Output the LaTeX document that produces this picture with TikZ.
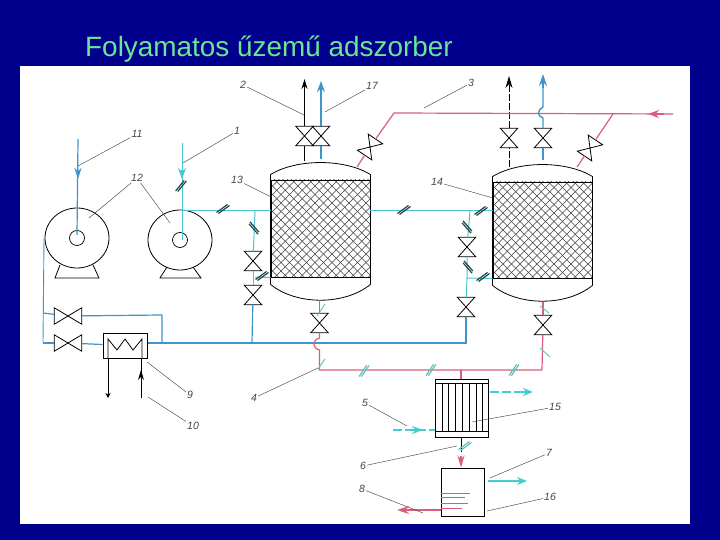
\documentclass[tikz,border=0pt]{standalone}
\usepackage{fontspec}
\setmainfont{Liberation Sans}
\usetikzlibrary{arrows.meta,shapes.geometric}
\definecolor{slidebg}{RGB}{0,0,140}
\definecolor{titlegreen}{RGB}{105,230,150}
\definecolor{cyanpipe}{RGB}{75,195,210}
\definecolor{bluepipe}{RGB}{60,150,205}
\definecolor{redpipe}{RGB}{215,95,125}
\definecolor{tealmark}{RGB}{30,70,75}
\definecolor{tealsoft}{RGB}{95,195,185}
\definecolor{arrowcyan}{RGB}{70,205,205}
\definecolor{labelgray}{RGB}{70,70,70}
\tikzset{
	valve/.style={minimum width=17pt,minimum height=19pt,inner sep=0pt},
	hatched/.style={draw=black,line width=.9pt,inner sep=0pt,
		path picture={\foreach \d in {-150,-141.5,...,150} {
			\draw [black!75,line width=.4pt] ([xshift=\d pt]path picture bounding box.center) ++(-90pt,-90pt) -- ++(180pt,180pt);
			\draw [black!75,line width=.4pt] ([xshift=\d pt]path picture bounding box.center) ++(-90pt,90pt) -- ++(180pt,-180pt);
		}}},
	pump/.style={draw=black,line width=.8pt,ellipse,inner sep=0pt,minimum width=64pt,minimum height=60pt},
	shaft/.style={draw=black,line width=.7pt,circle,inner sep=0pt,minimum size=15pt},
	unit/.style={draw=black,line width=1pt,inner sep=0pt},
	outline/.style={black,line width=.8pt},
	cyanline/.style={cyanpipe,line width=1pt},
	blueline/.style={bluepipe,line width=1.2pt},
	redline/.style={redpipe,line width=1.2pt},
	leader/.style={labelgray,line width=.45pt},
	tag/.style={labelgray,inner sep=1pt,font=\fontsize{10.5}{12}\selectfont\itshape},
	pics/brk/.style={code={
		\draw [#1,line width=1.2pt] (-6.5pt,-3.5pt) -- (4.5pt,4.5pt);
		\draw [#1,line width=1.2pt] (-4.5pt,-4.5pt) -- (6.5pt,3.5pt);}}
}
\begin{document}
\begin{tikzpicture}[x=1pt,y=1pt]
	\useasboundingbox (0,0) rectangle (720,-540);
	\fill [slidebg] (0,0) rectangle (720,-540);
	\fill [white] (20,-66) rectangle (690,-524);
	\node [titlegreen,anchor=base west,inner sep=0pt,font=\fontsize{27.9}{32}\selectfont] (title) at (85,-57) {Folyamatos űzemű adszorber};

	% vessels
	\node [hatched,minimum width=99pt,minimum height=97pt] (vesA) at (320.5,-228.5) {};
	\node [hatched,minimum width=99pt,minimum height=96pt] (vesB) at (542.5,-230) {};
	\foreach \v in {vesA,vesB} {
		\draw [outline] ([yshift=-7pt]\v.south west) -- ([yshift=5pt]\v.north west)
			.. controls ([shift={(26pt,21pt)}]\v.north west) and ([shift={(-26pt,21pt)}]\v.north east) .. ([yshift=5pt]\v.north east)
			-- ([yshift=-7pt]\v.south east)
			.. controls ([shift={(-26pt,-28pt)}]\v.south east) and ([shift={(26pt,-28pt)}]\v.south west) .. ([yshift=-7pt]\v.south west);
	}

	% pumps
	\node [pump] (pumpA) at (77,-238) {};
	\node [pump] (pumpB) at (180,-240) {};
	\node [shaft] (shaftA) at (77,-238) {};
	\node [shaft] (shaftB) at (180,-240) {};
	\draw [outline] (60,-265) -- (55,-278) -- (99,-278) -- (93,-265);
	\draw [outline] (167,-267) -- (160,-278) -- (201,-278) -- (193,-267);

	% valves
	\node [valve] (vTopA) at (304.5,-136) {};
	\node [valve] (vTopB) at (321,-136) {};
	\node [valve] (vTopC) at (509,-138) {};
	\node [valve] (vTopD) at (543,-138) {};
	\node [valve,rotate=-34] (vRedA) at (370,-147) {};
	\node [valve,rotate=-34] (vRedB) at (590,-148) {};
	\node [valve] (vSideA) at (253,-261) {};
	\node [valve] (vSideB) at (253,-295) {};
	\node [valve] (vSideC) at (467,-247) {};
	\node [valve] (vSideD) at (466,-307) {};
	\node [valve] (vBotA) at (319.5,-323) {};
	\node [valve] (vBotB) at (543,-325) {};
	\node [valve,rotate=90,minimum width=16pt,minimum height=27pt] (vRetA) at (68,-316) {};
	\node [valve,rotate=90,minimum width=16pt,minimum height=27pt] (vRetB) at (68,-343) {};
	\foreach \v in {vTopA,vTopB,vTopC,vTopD,vRedA,vRedB,vSideA,vSideB,vSideC,vSideD,vBotA,vBotB,vRetA,vRetB} {
		\draw [outline] (\v.north west) -- (\v.north east) -- (\v.south west) -- (\v.south east) -- cycle;
	}

	% heater, condenser, tank
	\node [unit,minimum width=44pt,minimum height=25pt] (heater) at (125,-345.5) {};
	\node [unit,minimum width=53pt,minimum height=58pt] (cond) at (461.5,-408) {};
	\node [unit,minimum width=43pt,minimum height=48pt] (tank) at (462.5,-492) {};

	\draw [outline] (108,-358) -- (108,-339) -- (117,-350) -- (125,-339) -- (133,-350) -- (142,-339) -- (142,-358);
	\draw [outline] (cond.west |- 0,-383) -- (cond.east |- 0,-383);
	\draw [outline] (cond.west |- 0,-431) -- (cond.east |- 0,-431);
	\foreach \x in {442,448,455,462,469,476,482} {
		\draw [black,line width=.7pt] (\x,-383) -- (\x,-431);
	}
	\foreach \y/\w in {-493/470,-497/465,-503/468,-508/462} {
		\draw [redpipe,line width=.5pt] (tank.west |- 0,\y) -- (\w,\y);
	}

	% cyan feed
	\draw [cyanline] (182,-143) -- (182,-240);
	\draw [cyanline,line width=2pt,-{Stealth[length=11pt,width=8pt]}] (182,-170) -- (182,-179);
	\draw [cyanline] (182,-211) -- (vesA.west |- 0,-211);
	\draw [cyanline] (255,-211) -- (vSideA);
	\draw [cyanline] (vSideA) -- (vSideB);
	\draw [cyanline] (255,-277) -- (vesA.south west);
	\draw [cyanline] (vesA.east |- 0,-211) -- (vesB.west |- 0,-211);
	\draw [cyanline] (470,-211) -- (vSideC);
	\draw [cyanline] (vSideC) -- (467,-278) -- (vesB.south west);
	\draw [cyanline] (467,-278) -- (vSideD);

	% blue line
	\draw [blueline] (78,-139) -- (77,-235);
	\draw [blueline,line width=2pt,-{Stealth[length=11pt,width=7pt]}] (78,-170) -- (78,-179);
	\draw [bluepipe,line width=.9pt] (44,-238) -- (43,-343);
	\draw [blueline] (43,-313) -- (vRetA);
	\draw [blueline] (vRetA) -- (162,-315) -- (162,-343);
	\draw [blueline] (43,-343) -- (vRetB);
	\draw [blueline] (vRetB) -- (heater);
	\draw [blueline] (heater.east) ++(0,2.5) -- (466,-343) -- (vSideD);
	\draw [blueline] (vSideB) -- (252,-343);
	\draw [black,line width=.6pt,-{Stealth[length=5pt,width=5pt]}] (108,-358) -- (108,-398);
	\draw [black,line width=.9pt] (141,-358) -- (141,-398);
	\draw [black,line width=.9pt,-{Stealth[length=10pt,width=6pt]}] (141,-392) -- (141,-370);

	% tops of the vessels
	\draw [black,line width=1pt] (304.5,-161) -- (vTopA);
	\draw [black,line width=1pt,-{Stealth[length=10pt,width=6pt]}] (vTopA) -- (304.5,-79);
	\draw [bluepipe,line width=1.4pt] (321,-159) -- (vTopB);
	\draw [bluepipe,line width=1.4pt,-{Stealth[length=11pt,width=8pt]}] (vTopB) -- (321,-81);
	\draw [black,line width=1pt,dash pattern=on 7pt off 2pt] (509,-167) -- (vTopC);
	\draw [black,line width=1pt,dash pattern=on 7pt off 2pt,-{Stealth[length=12pt,width=7pt]}] (vTopC) -- (509,-76);
	\draw [bluepipe,line width=1.4pt] (543,-160) -- (vTopD);
	\draw [bluepipe,line width=1.4pt] (vTopD) -- (543,-118) .. controls (537,-116) and (537,-110) .. (543,-107) -- (543,-88);
	\draw [bluepipe,line width=2.4pt,-{Stealth[length=12pt,width=8pt]}] (543,-88) -- (543,-74);

	% red line
	\draw [redline] (357,-167) -- (vRedA);
	\draw [redline] (vRedA) -- (394,-113) -- (673,-114);
	\draw [redline,line width=2pt,-{Stealth[length=11pt,width=8pt]}] (664,-114) -- (648,-114);
	\draw [redline] (577,-167) -- (vRedB);
	\draw [redline] (vRedB) -- (613,-114);
	\draw [redline] (319.5,-300) -- (vBotA);
	\draw [redline] (vBotA) -- (319.5,-338) .. controls (312,-340) and (312,-348) .. (319.5,-350) -- (319.5,-370) -- (542,-370);
	\draw [redline] (542,-370) -- (vBotB);
	\draw [redline] (vBotB) -- (543,-302);
	\draw [redline] (461,-370) -- (cond.north -| 461,0);
	\draw [black,line width=.7pt] (cond.south -| 461,0) -- (461,-452);
	\draw [redline,line width=2pt,-{Stealth[length=12pt,width=7pt]}] (461,-456) -- (tank.north -| 461,0);
	\draw [redline] (tank.west |- 0,-510) -- (410,-510);
	\draw [redline,line width=2.4pt,-{Stealth[length=12pt,width=8pt]}] (412,-510) -- (397,-510);

	% cyan arrows
	\draw [arrowcyan,line width=1.4pt,dash pattern=on 9pt off 3pt] (393,-430) -- (435,-430);
	\draw [arrowcyan,line width=2.4pt,-{Stealth[length=11pt,width=8pt]}] (406,-430) -- (423,-430);
	\draw [arrowcyan,line width=1.4pt,dash pattern=on 9pt off 3pt] (490,-392) -- (522,-392);
	\draw [arrowcyan,line width=2.4pt,-{Stealth[length=10pt,width=8pt]}] (516,-392) -- (533,-392);
	\draw [arrowcyan,line width=1.4pt] (488,-481) -- (512,-481);
	\draw [arrowcyan,line width=2.4pt,-{Stealth[length=10pt,width=8pt]}] (510,-481) -- (527,-481);

	% breaks in the lines
	\pic [rotate=15] at (181,-186) {brk=tealmark};
	\pic at (223,-209) {brk=tealmark};
	\pic [rotate=-85] at (254,-228) {brk=tealmark};
	\pic at (262,-276) {brk=tealmark};
	\pic at (404,-210) {brk=tealmark};
	\pic at (481,-211) {brk=tealmark};
	\pic [rotate=-85] at (467,-227) {brk=tealmark};
	\pic [rotate=-85] at (468,-267) {brk=tealmark};
	\pic at (483,-277) {brk=tealmark};
	\pic [rotate=20] at (364,-371) {brk=tealsoft};
	\pic [rotate=20] at (431,-370) {brk=tealsoft};
	\pic [rotate=20] at (514,-370) {brk=tealsoft};
	\pic at (465,-446) {brk=tealsoft};
	\draw [tealsoft,line width=.9pt] (317,-316) -- (325,-304);
	\draw [tealsoft,line width=.9pt] (318,-369) -- (325,-359);
	\draw [tealsoft,line width=.9pt] (540,-306) -- (549,-313);
	\draw [tealsoft,line width=.9pt] (540,-348) -- (550,-357);

	% numbers and their leaders
	\node [tag] (lblTwo) at (243,-85) {2};
	\node [tag] (lblSeventeen) at (372,-86) {17};
	\node [tag] (lblThree) at (471,-83) {3};
	\node [tag] (lblEleven) at (137,-134) {11};
	\node [tag] (lblOne) at (237,-131) {1};
	\node [tag] (lblTwelve) at (137,-178) {12};
	\node [tag] (lblThirteen) at (237,-180) {13};
	\node [tag] (lblFourteen) at (437,-182) {14};
	\node [tag] (lblNine) at (190,-395) {9};
	\node [tag] (lblTen) at (193,-426) {10};
	\node [tag] (lblFour) at (254,-398) {4};
	\node [tag] (lblFive) at (365,-403) {5};
	\node [tag] (lblFifteen) at (555,-407) {15};
	\node [tag] (lblSix) at (363,-466) {6};
	\node [tag] (lblSeven) at (549,-453) {7};
	\node [tag] (lblEight) at (362,-489) {8};
	\node [tag] (lblSixteen) at (550,-497) {16};

	\draw [leader] (lblTwo) -- (304,-115);
	\draw [leader] (lblSeventeen) -- (325,-112);
	\draw [leader] (lblThree) -- (424,-108);
	\draw [leader] (lblEleven) -- (78,-166);
	\draw [leader] (lblOne) -- (183,-163);
	\draw [leader] (lblTwelve) -- (89,-218);
	\draw [leader] (lblTwelve) -- (170,-223);
	\draw [leader] (lblThirteen) -- (271,-197);
	\draw [leader] (lblFourteen) -- (493,-198);
	\draw [leader] (lblNine) -- (147,-362);
	\draw [leader] (lblTen) -- (148,-397);
	\draw [leader] (lblFour) -- (318,-368);
	\draw [leader] (lblFive) -- (407,-426);
	\draw [leader] (lblFifteen) -- (472,-422);
	\draw [leader] (lblSix) -- (457,-446);
	\draw [leader] (lblSeven) -- (490,-478);
	\draw [leader] (lblEight) -- (423,-513);
	\draw [leader] (lblSixteen) -- (487,-511);
\end{tikzpicture}
\end{document}
